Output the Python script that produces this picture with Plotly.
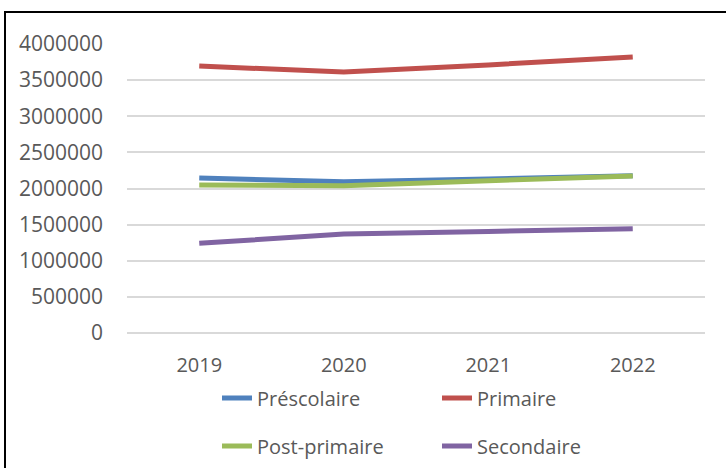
import plotly.graph_objects as go

years = ["2019", "2020", "2021", "2022"]
prescolaire = [2145000, 2094000, 2132000, 2177000]
primaire = [3695000, 3612000, 3710000, 3820000]
post_primaire = [2048000, 2039000, 2108000, 2173000]
secondaire = [1241000, 1370000, 1405000, 1444000]

series = [
    ("Préscolaire", prescolaire, "#4F81BD", "legend"),
    ("Primaire", primaire, "#C0504D", "legend"),
    ("Post-primaire", post_primaire, "#9BBB59", "legend2"),
    ("Secondaire", secondaire, "#8064A2", "legend2"),
]

W, H = 726, 468
L, R, T, B = 127, 21, 44, 135
pw, ph = W - L - R, H - T - B

def px_x(p):
    return (p - L) / pw

def px_y(p):
    return (H - B - p) / ph

FONT = "Open Sans"
GREY = "#595959"

fig = go.Figure()
for name, vals, color, lg in series:
    fig.add_trace(go.Scatter(
        x=years, y=vals, name=name, mode="lines",
        line=dict(color=color, width=5),
        legend=lg,
    ))

leg_common = dict(
    orientation="h", xanchor="left", yanchor="middle",
    font=dict(family=FONT, size=20, color=GREY),
    entrywidth=175, entrywidthmode="pixels",
    bgcolor="rgba(0,0,0,0)",
)

border = dict(color="black", width=2)

fig.update_layout(
    width=W, height=H,
    margin=dict(l=L, r=R, t=T, b=B, autoexpand=False),
    paper_bgcolor="white", plot_bgcolor="white",
    font=dict(family=FONT, color=GREY),
    showlegend=True,
    legend=dict(x=px_x(217), y=px_y(398), **leg_common),
    legend2=dict(x=px_x(217), y=px_y(446), **leg_common),
    xaxis=dict(
        type="category", range=[-0.5, 3.5],
        showgrid=False, showline=False, zeroline=False,
        ticks="", tickfont=dict(family=FONT, size=20, color=GREY),
        ticklabelstandoff=18,
    ),
    yaxis=dict(
        range=[0, 4000000], tickvals=[0, 500000, 1000000, 1500000, 2000000, 2500000, 3000000, 3500000, 4000000],
        tickformat="d",
        showgrid=True, gridcolor="#D9D9D9", gridwidth=1.5,
        zeroline=True, zerolinecolor="#D9D9D9", zerolinewidth=1.5,
        showline=False, ticks="",
        tickfont=dict(family=FONT, size=21, color=GREY),
        ticklabelstandoff=23,
    ),
    shapes=[
        dict(type="line", xref="paper", yref="paper",
             x0=px_x(4), x1=px_x(726), y0=px_y(12), y1=px_y(12), line=border, layer="above"),
        dict(type="line", xref="paper", yref="paper",
             x0=px_x(5), x1=px_x(5), y0=px_y(11), y1=px_y(468), line=border, layer="above"),
    ],
)

fig.write_html("out.html", config={"displayModeBar": False},
               post_script="document.body.style.margin='0';")
